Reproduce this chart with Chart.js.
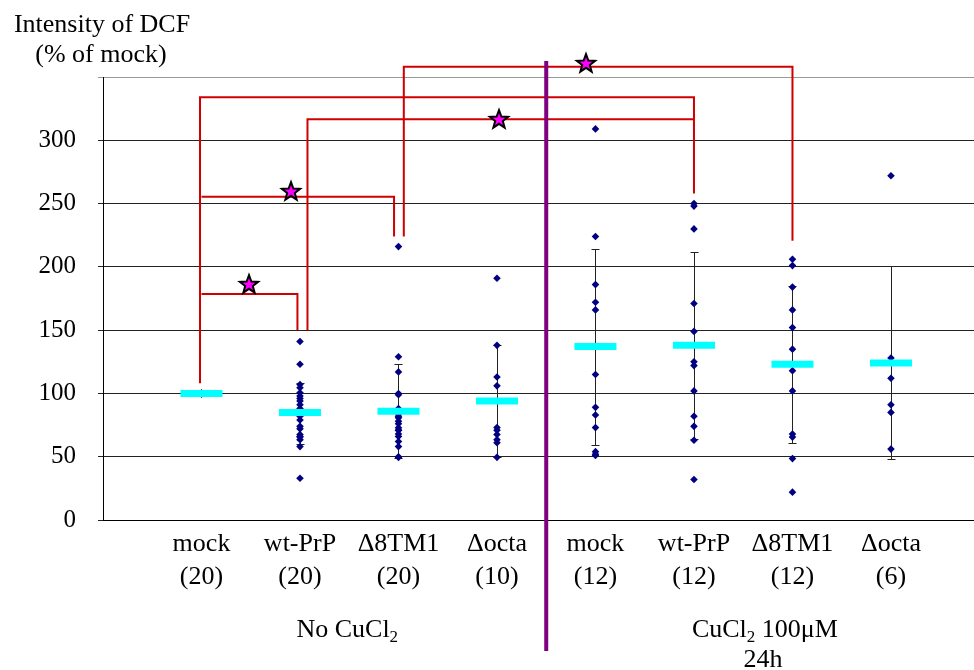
<!DOCTYPE html>
<html lang="en">
<head>
<meta charset="UTF-8" />
<title>Intensity of DCF</title>
<script src="https://cdn.jsdelivr.net/npm/chart.js"></script>
<style>
  html, body { margin: 0; padding: 0; background: #fff; }
</style>
</head>
<body>
<canvas id="dcfChart" width="974" height="670"></canvas>
<script>
  // categories (x positions 1..8)
  const groupNames = ['mock', 'wt-PrP', 'Δ8TM1', 'Δocta', 'mock', 'wt-PrP', 'Δ8TM1', 'Δocta'];
  const groupCounts = ['(20)', '(20)', '(20)', '(10)', '(12)', '(12)', '(12)', '(6)'];

  // individual measurements, % of mock
  const mockNoCu  = [100, 100, 100, 100, 100, 100, 100, 100, 100, 100, 100, 100, 100, 100, 100, 100, 100, 100, 100, 100];
  const wtNoCu    = [141, 123, 107, 104.5, 100.5, 98, 96, 94, 91, 88, 82, 79, 74, 72, 67.5, 66, 65.6, 63.5, 58, 33];
  const d8NoCu    = [216, 129, 117, 100, 99, 88, 84, 82, 80.7, 78, 76, 72.8, 71, 70.9, 68, 66, 62, 58, 50, 49.5];
  const octaNoCu  = [191, 138, 113, 106, 73, 71, 67.5, 63.5, 61, 49.5];
  const mockCu    = [309, 224, 186, 172, 166, 115, 89, 83, 73, 54, 52, 51];
  const wtCu      = [250, 248, 230, 171, 149, 125, 122, 102, 82, 74, 63, 32];
  const d8Cu      = [206, 201, 184, 166, 152, 135, 118, 102, 68, 65.5, 48.5, 22];
  const octaCu    = [272, 128, 112, 91, 85, 56];
  const seriesValues = [mockNoCu, wtNoCu, d8NoCu, octaNoCu, mockCu, wtCu, d8Cu, octaCu];

  // group means and error bar ends
  const means   = [100, 85, 86, 94, 137, 138, 123, 124];
  const errLow  = [null, 60, 49, 50, 59, 64, 61, 48];
  const errHigh = [null, 108, 123, 138, 214, 212, 185, 201];

  const yTicks = [0, 50, 100, 150, 200, 250, 300, 350];

  // significance brackets [x, y]
  const bracketMockWtCu   = [[0.985, 108], [0.985, 334], [6, 334], [6, 258]];
  const bracketWtWtCu     = [[2.076, 150], [2.076, 316.7], [6, 316.7]];
  const bracketD8D8Cu     = [[3.054, 224], [3.054, 358], [7, 358], [7, 220.6]];
  const bracketMockD8     = [[1, 255.4], [2.955, 255.4], [2.955, 224]];
  const bracketMockWt     = [[1, 178.6], [1.974, 178.6], [1.974, 150]];
  const brackets = [bracketMockWtCu, bracketWtWtCu, bracketD8D8Cu, bracketMockD8, bracketMockWt];

  const starPoints = [[1.483, 186.4], [1.913, 259.9], [4.019, 316.7], [4.899, 361.2]];

  const serif = '"Liberation Serif", "Times New Roman", serif';

  function makeStar() {
    const c = document.createElement('canvas');
    c.width = 24; c.height = 24;
    const g = c.getContext('2d');
    g.beginPath();
    for (let i = 0; i < 10; i++) {
      const r = i % 2 ? 4 : 9.6;
      const a = -Math.PI / 2 + i * Math.PI / 5;
      g.lineTo(12 + r * Math.cos(a), 12.8 + r * Math.sin(a));
    }
    g.closePath();
    g.fillStyle = '#FF00FF';
    g.fill();
    g.lineWidth = 2;
    g.strokeStyle = '#000';
    g.stroke();
    return c;
  }
  const starImg = makeStar();

  const dotData = [];
  seriesValues.forEach((vals, i) => vals.forEach(v => dotData.push({ x: i + 1, y: v })));

  const meanData = means.map((m, i) => ({ x: i + 1, y: m }));

  const bracketSets = brackets.map(b => ({
    type: 'scatter',
    data: b.map(p => ({ x: p[0], y: p[1] })),
    showLine: true,
    borderColor: '#D00000',
    borderWidth: 2,
    pointRadius: 0,
    fill: false,
    clip: false
  }));

  // error bars, drawn under the dots
  const errorBars = {
    id: 'errorBars',
    beforeDatasetsDraw(chart) {
      const { ctx, scales: { x, y } } = chart;
      ctx.save();
      ctx.strokeStyle = '#222';
      ctx.lineWidth = 1;
      errLow.forEach((lo, i) => {
        if (lo === null) return;
        const px = Math.round(x.getPixelForValue(i + 1)) + 0.5;
        const top = Math.round(y.getPixelForValue(errHigh[i])) + 0.5;
        const bot = Math.round(y.getPixelForValue(lo)) + 0.5;
        ctx.beginPath();
        ctx.moveTo(px, top); ctx.lineTo(px, bot);
        ctx.moveTo(px - 4, top); ctx.lineTo(px + 4, top);
        ctx.moveTo(px - 4, bot); ctx.lineTo(px + 4, bot);
        ctx.stroke();
      });
      ctx.restore();
    }
  };

  // divider, stars, axis title and group captions
  const extras = {
    id: 'extras',
    afterDatasetsDraw(chart) {
      const { ctx, scales: { x, y }, chartArea } = chart;
      ctx.save();
      const dx = x.getPixelForValue(4.5);
      ctx.strokeStyle = '#800080';
      ctx.lineWidth = 4;
      ctx.beginPath();
      ctx.moveTo(dx, chartArea.top - 16);
      ctx.lineTo(dx, 651);
      ctx.stroke();
      starPoints.forEach(p => {
        const sx = x.getPixelForValue(p[0]);
        const sy = y.getPixelForValue(p[1]);
        ctx.drawImage(starImg, Math.round(sx - 12), Math.round(sy - 12));
      });
      ctx.restore();
    },
    afterDraw(chart) {
      const { ctx, scales: { x } } = chart;
      ctx.save();
      ctx.fillStyle = '#000';
      ctx.textBaseline = 'alphabetic';
      ctx.textAlign = 'center';
      ctx.font = '26px ' + serif;
      ctx.fillText('Intensity of DCF', 102, 32);
      ctx.fillText('(% of mock)', 101, 62);

      const withSub = (before, after, cx, base) => {
        ctx.textAlign = 'left';
        ctx.font = '26px ' + serif;
        const w1 = ctx.measureText(before).width;
        const w3 = ctx.measureText(after).width;
        ctx.font = '17px ' + serif;
        const w2 = ctx.measureText('2').width;
        let sx = cx - (w1 + w2 + w3) / 2;
        ctx.font = '26px ' + serif;
        ctx.fillText(before, sx, base);
        ctx.font = '17px ' + serif;
        ctx.fillText('2', sx + w1, base + 5);
        ctx.font = '26px ' + serif;
        ctx.fillText(after, sx + w1 + w2, base);
      };
      withSub('No CuCl', '', x.getPixelForValue(2.48), 637);
      withSub('CuCl', ' 100μM', x.getPixelForValue(6.72), 637);
      ctx.textAlign = 'center';
      ctx.font = '26px ' + serif;
      ctx.fillText('24h', x.getPixelForValue(6.7), 667);
      ctx.restore();
    }
  };

  new Chart(document.getElementById('dcfChart'), {
    type: 'scatter',
    data: {
      datasets: [
        {
          data: meanData,
          pointStyle: 'line',
          pointRadius: 21,
          borderWidth: 7,
          borderColor: '#00FFFF',
          backgroundColor: '#00FFFF'
        },
        {
          data: dotData,
          pointStyle: 'rectRot',
          pointRadius: 3.8,
          borderWidth: 0,
          backgroundColor: '#000080',
          borderColor: '#000080'
        },
        ...bracketSets
      ]
    },
    options: {
      responsive: false,
      animation: false,
      devicePixelRatio: 1,
      layout: { autoPadding: false, padding: { top: 77, left: 0, right: 0, bottom: 0 } },
      plugins: {
        legend: { display: false },
        tooltip: { enabled: false },
        title: { display: false }
      },
      scales: {
        x: {
          type: 'linear',
          min: 0,
          max: 8.843,
          afterBuildTicks: s => { s.ticks = groupNames.map((g, i) => ({ value: i + 1 })); },
          afterFit: s => { s.height = 150; s.paddingLeft = 0; s.paddingRight = 0; },
          grid: { display: false, drawTicks: false },
          border: { display: true, color: '#000', width: 1 },
          ticks: {
            padding: 8,
            color: '#000',
            maxRotation: 0,
            autoSkip: false,
            font: { family: serif, size: 26, lineHeight: 1.27 },
            callback: v => {
              const i = Math.round(v) - 1;
              return groupNames[i] ? [groupNames[i], groupCounts[i]] : '';
            }
          }
        },
        y: {
          min: 0,
          max: 350,
          afterBuildTicks: s => { s.ticks = yTicks.map(v => ({ value: v })); },
          afterFit: s => { s.width = 103; },
          grid: {
            color: c => c.tick && c.tick.value === 350 ? '#999' : '#222',
            tickLength: 5,
            drawTicks: true
          },
          border: { display: true, color: '#000', width: 1 },
          ticks: {
            padding: 22,
            color: '#000',
            font: { family: serif, size: 25 },
            callback: v => (v === 350 ? '' : v)
          }
        }
      }
    },
    plugins: [errorBars, extras]
  });
</script>
</body>
</html>
